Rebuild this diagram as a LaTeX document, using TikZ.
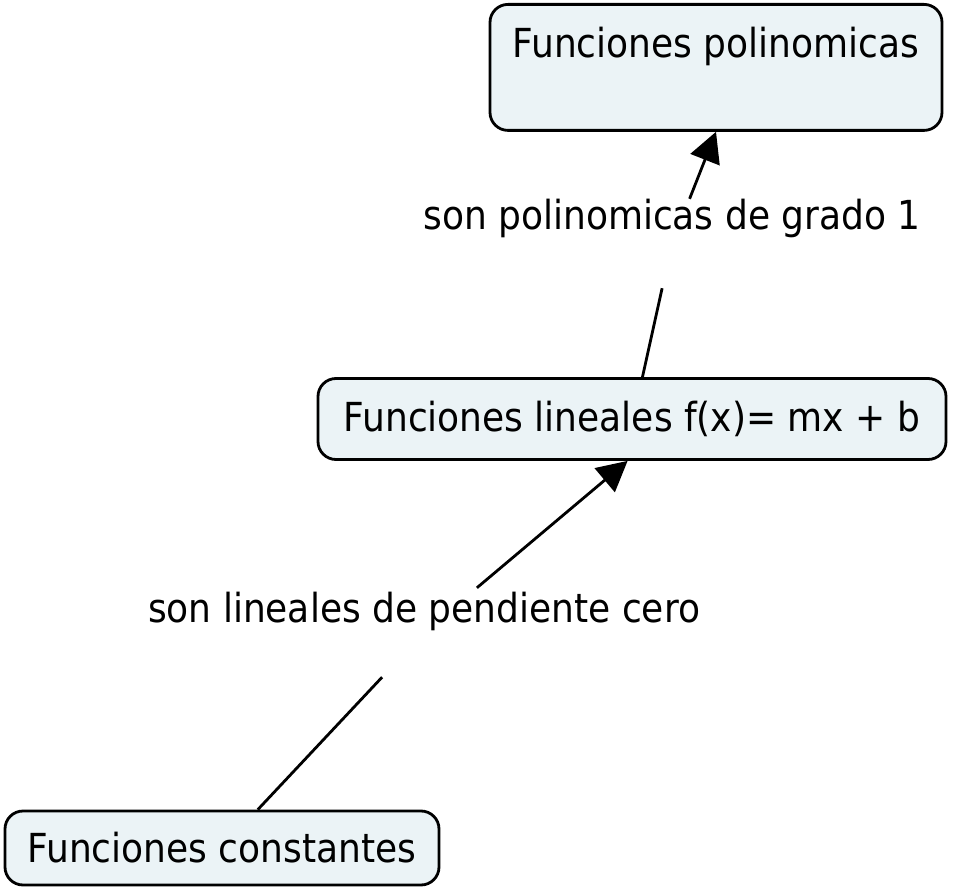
\documentclass[tikz,border=0pt]{standalone}
\usepackage{fontspec}
\setmainfont{DejaVu Sans Condensed}
\usetikzlibrary{arrows.meta}
\definecolor{conceptfill}{RGB}{235,243,246}

\begin{document}
\begin{tikzpicture}[x=1pt,y=-1pt,
  concept/.style={draw, line width=2.8pt, rounded corners=18pt, fill=conceptfill, inner sep=0pt, font=\fontsize{40}{47}\selectfont},
  linklabel/.style={inner sep=0pt, font=\fontsize{40}{47}\selectfont},
  link/.style={line width=2.8pt},
  linkarrow/.style={line width=2.8pt, -{Triangle[length=30pt,width=31pt]}}]
\useasboundingbox (0,0) rectangle (953,893);
% concepts
\node [concept, anchor=north, minimum width=452pt, text height=53pt, text depth=73pt] (polin) at (716,3) {Funciones polinomicas};
\node [concept, minimum width=628pt, minimum height=81pt] (lineales) at (632,419) {Funciones lineales f(x)= mx + b};
\node [concept, minimum width=434pt, minimum height=74pt] (const) at (222,848) {Funciones constantes};
% link labels
\node [linklabel, anchor=base, text height=31pt, text depth=58pt] (gradouno) at (672,230) {son polinomicas de grado 1};
\node [linklabel, anchor=base, text height=34pt, text depth=55pt] (pendcero) at (424,622) {son lineales de pendiente cero};
% links
\draw [link] (lineales.76) -- (gradouno);
\draw [linkarrow] (gradouno) -- (polin.south);
\draw [link] (const.47) -- (pendcero);
\draw [linkarrow] (pendcero) -- (lineales.264);
\end{tikzpicture}
\end{document}
